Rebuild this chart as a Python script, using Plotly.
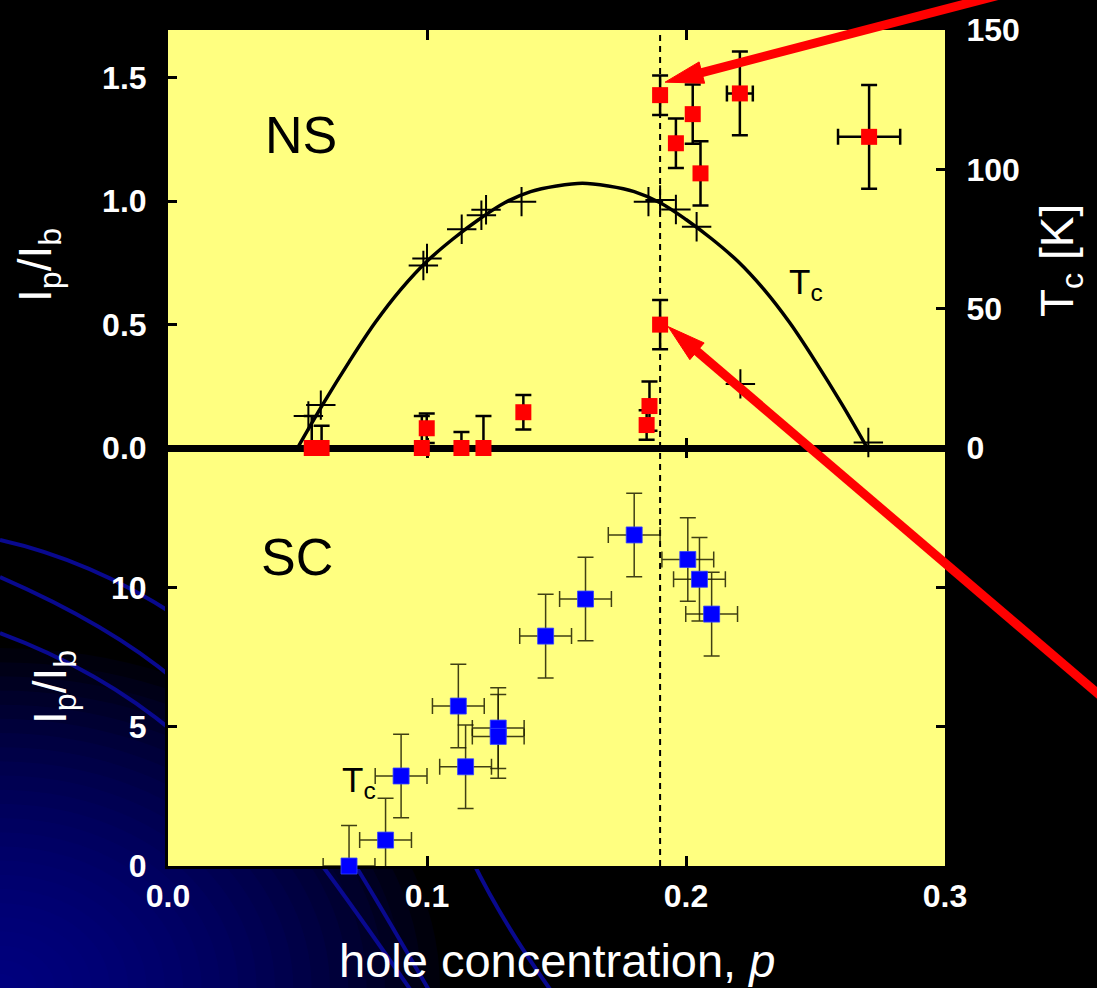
import math
import plotly.graph_objects as go

# ---------------- data ----------------
# Tc dome (fit line) and measured Tc of the samples, right axis [K]
p_fit = [0.05, 0.06, 0.07, 0.08, 0.09, 0.10, 0.11, 0.12, 0.13, 0.14, 0.15, 0.16,
         0.17, 0.18, 0.19, 0.20, 0.21, 0.22, 0.23, 0.24, 0.25, 0.26, 0.27]
tc_fit = [0, 16, 31, 45, 57, 67, 75, 82, 88, 92, 94, 95,
          94, 92, 88, 82, 75, 67, 57, 45, 31, 16, 0]

p_tc = [0.0542, 0.0590, 0.0986, 0.1000, 0.1134, 0.1210, 0.1228, 0.1365,
        0.1855, 0.1900, 0.1961, 0.2041, 0.2210, 0.2704]
tc_meas = [11.5, 15.4, 65.5, 68.0, 78.5, 83.5, 85.5, 88.4,
           88.4, 89.0, 85.6, 79.4, 23.0, 2.0]

# normal state (NS) peak ratio Ip/Ib
p_ns = [0.0555, 0.0593, 0.0980, 0.0999, 0.1133, 0.1218, 0.1372, 0.1848,
        0.1859, 0.1900, 0.1900, 0.1961, 0.2026, 0.2056, 0.2208, 0.2707]
r_ns = [0.0, 0.0, 0.0, 0.08, 0.0, 0.0, 0.145, 0.093,
        0.17, 0.50, 1.43, 1.235, 1.353, 1.113, 1.437, 1.261]
dr_ns = [0.13, 0.09, 0.13, 0.06, 0.065, 0.13, 0.07, 0.06,
         0.10, 0.10, 0.08, 0.10, 0.12, 0.13, 0.17, 0.21]
dp_ns = [None, None, None, None, None, None, None, None,
         None, None, None, None, None, None, 0.005, 0.012]

# superconducting state (SC) peak ratio Ip/Ib
p_sc = [0.0699, 0.0840, 0.0900, 0.1121, 0.1149, 0.1275, 0.1275,
        0.1458, 0.1612, 0.1800, 0.2007, 0.2052, 0.2099]
r_sc = [0.0, 0.93, 3.23, 5.74, 3.56, 4.95, 4.65,
        8.25, 9.58, 11.88, 11.0, 10.29, 9.04]
dr_sc = [1.45, 1.5, 1.5, 1.5, 1.5, 1.45, 1.5,
         1.5, 1.5, 1.5, 1.5, 1.5, 1.5]
dp_sc = [0.01] * len(p_sc)

p_opt = 0.19          # dashed marker line
x_ticks = [0.0, 0.1, 0.2, 0.3]
x_labels = ["0.0", "0.1", "0.2", "0.3"]
ns_ticks = [0.0, 0.5, 1.0, 1.5]
ns_labels = ["0.0", "0.5", "1.0", "1.5"]
tc_ticks = [0, 50, 100, 150]
sc_ticks = [0, 5, 10]

# ---------------- layout geometry ----------------
W, H = 1097, 988
ML, MR, MT, MB = 168, 152, 30, 122
PW, PH = W - ML - MR, H - MT - MB
X_RANGE = [0.0, 0.3]
NS_RANGE = [0.0, 1.694]
TC_RANGE = [0.0, 150.0]
SC_RANGE = [0.0, 15.0]

FONT = "Liberation Sans, Arial, sans-serif"
YELLOW = "#FFFF80"


def px_x(px):
    return (px - ML) / PW


def px_y(py):
    return (H - MB - py) / PH


def paper_x(p):
    return (p - X_RANGE[0]) / (X_RANGE[1] - X_RANGE[0])


def paper_ns(v):
    return 0.5 + 0.5 * (v - NS_RANGE[0]) / (NS_RANGE[1] - NS_RANGE[0])


fig = go.Figure()

# Tc dome
fig.add_trace(go.Scatter(
    x=p_fit, y=tc_fit, mode="lines", line=dict(color="black", width=3.5, shape="spline"),
    xaxis="x2", yaxis="y2", hoverinfo="skip", showlegend=False))
fig.add_trace(go.Scatter(
    x=p_tc, y=tc_meas, mode="markers",
    marker=dict(symbol="cross-thin", size=21, line=dict(color="black", width=2)),
    xaxis="x2", yaxis="y2", cliponaxis=False, showlegend=False))

# NS points
fig.add_trace(go.Scatter(
    x=p_ns, y=r_ns, mode="markers",
    marker=dict(symbol="square", size=16, color="#FF0000", line=dict(width=0)),
    error_y=dict(type="data", array=dr_ns, color="black", thickness=2.5, width=8),
    error_x=dict(type="data", array=dp_ns, color="black", thickness=2.5, width=8),
    xaxis="x2", yaxis="y", cliponaxis=False, showlegend=False))

# SC points
fig.add_trace(go.Scatter(
    x=p_sc, y=r_sc, mode="markers",
    marker=dict(symbol="square", size=16, color="#0000FF", line=dict(width=0.8, color="#3344FF")),
    error_y=dict(type="data", array=dr_sc, color="rgba(30,30,0,0.85)", thickness=1.5, width=8),
    error_x=dict(type="data", array=dp_sc, color="rgba(30,30,0,0.85)", thickness=1.5, width=8),
    xaxis="x", yaxis="y3", cliponaxis=False, showlegend=False))

# ---------------- background decoration ----------------
shapes = []
# dark blue glow in the lower-left corner
N_GLOW = 24
RX, RY = 440, 340
for k in range(N_GLOW, 0, -1):
    f = k / N_GLOW
    shapes.append(dict(
        type="circle", xref="paper", yref="paper", layer="below",
        x0=px_x(-RX * f), x1=px_x(RX * f), y0=px_y(H + RY * f), y1=px_y(H - RY * f),
        fillcolor="rgba(0,0,150,0.08)", line=dict(width=0)))

swirls = [
    [(0, 540), (90, 560), (175, 615)],
    [(0, 577), (110, 625), (175, 680)],
    [(0, 633), (100, 670), (175, 733)],
    [(318, 860), (352, 905), (412, 992)],
    [(352, 860), (380, 905), (430, 992)],
    [(472, 860), (502, 922), (552, 992)],
]
for (a, b, c) in swirls:
    path = "M {:.4f},{:.4f} Q {:.4f},{:.4f} {:.4f},{:.4f}".format(
        px_x(a[0]), px_y(a[1]), px_x(b[0]), px_y(b[1]), px_x(c[0]), px_y(c[1]))
    shapes.append(dict(type="path", xref="paper", yref="paper", layer="below",
                       path=path, line=dict(color="rgba(10,10,150,0.95)", width=4)))

# plot area fill
shapes.append(dict(type="rect", xref="paper", yref="paper", layer="below",
                   x0=0, x1=1, y0=0, y1=1, fillcolor=YELLOW, line=dict(width=0)))

# dashed vertical line at p = 0.19
shapes.append(dict(type="line", xref="paper", yref="paper", layer="below",
                   x0=paper_x(p_opt), x1=paper_x(p_opt), y0=0, y1=1,
                   line=dict(color="black", width=2, dash="6px,5px")))


def arrow(p, v, tip, angle_deg, length, width=9, head_len=38, head_w=22):
    """Red arrow whose tip sits at a pixel offset from the NS point (p, v)."""
    ax, ay = paper_x(p), paper_ns(v)
    ux, uy = math.cos(math.radians(angle_deg)), math.sin(math.radians(angle_deg))
    nx, ny = -uy, ux
    tx, ty = tip
    bx, by = tx + head_len * ux, ty + head_len * uy
    ex, ey = tx + length * ux, ty + length * uy
    common = dict(xref="paper", yref="paper", xsizemode="pixel", ysizemode="pixel",
                  xanchor=ax, yanchor=ay, layer="above")
    body = dict(type="line", x0=bx - 2 * ux, y0=by - 2 * uy, x1=ex, y1=ey,
                line=dict(color="#FF0000", width=width), **common)
    head = dict(type="path",
                path="M {:.2f},{:.2f} L {:.2f},{:.2f} L {:.2f},{:.2f} Z".format(
                    tx, ty, bx + head_w / 2 * nx, by + head_w / 2 * ny,
                    bx - head_w / 2 * nx, by - head_w / 2 * ny),
                fillcolor="#FF0000", line=dict(color="#FF0000", width=1), **common)
    return [body, head]


shapes += arrow(0.19, 1.43, (5, 13), 14.6, 480)
shapes += arrow(0.19, 0.50, (8, -2), -40.5, 680)

# ---------------- annotations ----------------
centered = dict(showarrow=False, xanchor="center", yanchor="middle")
annotations = [
    dict(text="NS", x=0.0514, y=1.27, xref="x2", yref="y",
         font=dict(family=FONT, size=52, color="black"), **centered),
    dict(text="SC", x=0.0498, y=11.09, xref="x", yref="y3",
         font=dict(family=FONT, size=52, color="black"), **centered),
    dict(text="T<sub>c</sub>", x=0.2465, y=59.0, xref="x2", yref="y2",
         font=dict(family=FONT, size=35, color="black"), **centered),
    dict(text="T<sub>c</sub>", x=0.0738, y=3.0, xref="x", yref="y3",
         font=dict(family=FONT, size=35, color="black"), **centered),
    # axis titles
    dict(text="I<sub>p</sub>/I<sub>b</sub>", textangle=-90, x=px_x(38), y=px_y(265),
         xref="paper", yref="paper",
         font=dict(family=FONT, size=46, color="white"), **centered),
    dict(text="I<sub>p</sub>/I<sub>b</sub>", textangle=-90, x=px_x(53), y=px_y(687),
         xref="paper", yref="paper",
         font=dict(family=FONT, size=46, color="white"), **centered),
    dict(text="T<sub>c</sub> [K]", textangle=-90, x=px_x(1060), y=px_y(261),
         xref="paper", yref="paper",
         font=dict(family=FONT, size=46, color="white"), **centered),
    dict(text="hole concentration, <i>p</i>", x=0.5, y=px_y(961),
         xref="paper", yref="paper",
         font=dict(family=FONT, size=47, color="white"), **centered),
]

tickfont = dict(family=FONT, size=32, color="white", weight="bold")
axis_common = dict(showgrid=False, zeroline=False, ticks="inside", tickcolor="black",
                   tickwidth=3, showline=True, linecolor="black")

fig.update_layout(
    width=W, height=H,
    margin=dict(l=ML, r=MR, t=MT, b=MB, pad=0),
    paper_bgcolor="black", plot_bgcolor="rgba(0,0,0,0)",
    showlegend=False,
    xaxis=dict(domain=[0, 1], anchor="y3", range=X_RANGE, tickvals=x_ticks,
               ticktext=x_labels, ticklen=10, linewidth=3, mirror="ticks",
               tickfont=tickfont, ticklabelstandoff=0, layer="below traces", **axis_common),
    xaxis2=dict(domain=[0, 1], anchor="y", matches="x", range=X_RANGE, tickvals=x_ticks,
                showticklabels=False, ticklen=10, linewidth=4, mirror="ticks",
                layer="below traces", **axis_common),
    yaxis=dict(domain=[0.5, 1], anchor="x2", range=NS_RANGE, tickvals=ns_ticks,
               ticktext=ns_labels, ticklen=9, linewidth=3, tickfont=tickfont,
               ticklabelstandoff=12, layer="below traces", **axis_common),
    yaxis2=dict(overlaying="y", anchor="x2", side="right", range=TC_RANGE,
                tickvals=tc_ticks, ticklen=9, linewidth=3, tickfont=tickfont,
                ticklabelstandoff=12, layer="below traces", **axis_common),
    yaxis3=dict(domain=[0, 0.5], anchor="x", range=SC_RANGE, tickvals=sc_ticks,
                ticklen=9, linewidth=3, mirror="ticks", tickfont=tickfont,
                ticklabelstandoff=12, layer="below traces", **axis_common),
    shapes=shapes,
    annotations=annotations,
)

fig.write_html("out.html")
